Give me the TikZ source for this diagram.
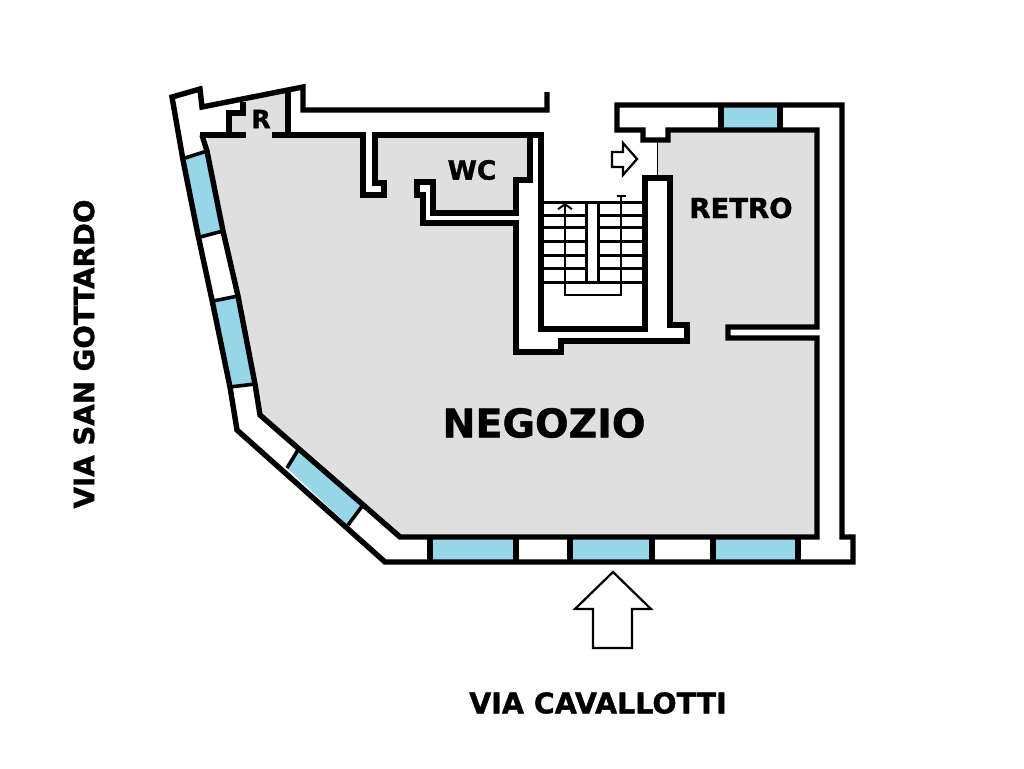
\documentclass[tikz,border=0pt]{standalone}
\usepackage{fontspec}
\usetikzlibrary{arrows.meta}
\setmainfont{DejaVu Sans}[BoldFeatures={FakeBold=1.2}]
\definecolor{roomgrey}{HTML}{DFDFDF}
\definecolor{glassblue}{HTML}{97D5E8}
\tikzset{
	wall/.style={line width=5.4pt, line join=miter, black},
	thinwall/.style={line width=3.6pt, line join=miter, black},
	tread/.style={line width=3pt, black},
	pointer/.style={line width=2.2pt, line join=miter, black, fill=white},
	roomname/.style={inner sep=0pt, black},
}
\begin{document}
\begin{tikzpicture}[x=1pt,y=-1pt]
	\path[use as bounding box, fill=white] (0,0) rectangle (1024,768);

	% stanze
	\fill[roomgrey] (207,135) -- (229,135) -- (229,113) -- (243,113) -- (243,100) -- (288,90) -- (288,135) -- (363,135) -- (363,195) -- (384,195) -- (384,183) -- (375,183) -- (375,135) -- (530,135) -- (530,180) -- (516,180) -- (516,213) -- (433,213) -- (433,182) -- (417,182) -- (417,195) -- (423,195) -- (423,223) -- (516,223) -- (516,352) -- (561,352) -- (561,341) -- (687,341) -- (687,325) -- (670,325) -- (670,178) -- (657,178) -- (657,140) -- (668,140) -- (668,130) -- (817,130) -- (817,327) -- (728,327) -- (728,338) -- (817,338) -- (817,537) -- (400,537) -- (260,415) -- (255,384) -- cycle;

	% vetrine
	\fill[glassblue] (185,158) -- (207,151) -- (223,231) -- (200,237) -- cycle;
	\fill[glassblue] (213,301) -- (238,296) -- (255,384) -- (230,387) -- cycle;
	\fill[glassblue] (298,450) -- (363,505) -- (348,525) -- (287,468) -- cycle;
	\foreach \xa/\xb in {430/516,570/652,713/798} {
		\fill[glassblue] (\xa,537) rectangle (\xb,562);
	}
	\fill[glassblue] (721,105) rectangle (780,130);

	% muri esterni
	\draw[wall] (200,135) -- (246,135);
	\draw[wall] (272,135) -- (363,135) -- (363,195) -- (384,195) -- (384,183) -- (375,183) -- (375,135) -- (543.7,135);
	\draw[wall] (229,135) -- (229,113) -- (243,113) -- (243,102);
	\draw[wall] (288,135) -- (288,90);
	\draw[wall] (202,135) -- (207,151) -- (223,231) -- (238,296) -- (255,384) -- (260,415) -- (400,537) -- (817,537) -- (817,338) -- (728,338) -- (728,327) -- (817,327) -- (817,130) -- (668,130) -- (668,140) -- (643,140) -- (643,130) -- (617,130) -- (617,105) -- (842,105) -- (842,537) -- (853,537) -- (853,562) -- (385,562) -- (237,430) -- (230,387) -- (212,300) -- (198,235) -- (183,160) -- (172,97) -- (200,89) -- (202,107) -- (303,87) -- (303,110) -- (547,110) -- (547,92);

	% tramezzi
	\draw[wall] (530,135) -- (530,180) -- (516,180) -- (516,213) -- (433,213) -- (433,182) -- (417,182) -- (417,195) -- (423,195) -- (423,223) -- (516,223) -- (516,352) -- (561,352) -- (561,341) -- (687,341) -- (687,325) -- (670,325) -- (670,178) -- (645,178) -- (645,329) -- (541,329) -- (541,135);

	% spalle delle vetrine
	\draw[thinwall] (185,158) -- (207,151);
	\draw[thinwall] (200,237) -- (223,231);
	\draw[thinwall] (213,301) -- (238,296);
	\draw[thinwall] (230,387) -- (255,384);
	\draw[thinwall] (298,450) -- (287,468);
	\draw[thinwall] (363,505) -- (348,525);
	\foreach \x in {430,516,570,652,713,798} {
		\draw[wall] (\x,537) -- (\x,562);
	}
	\draw[wall] (721,105) -- (721,130);
	\draw[wall] (780,105) -- (780,130);

	% scala
	\foreach \y in {202,215,227,241,255,268,282} {
		\draw[tread] (543,\y) -- (643,\y);
	}
	\fill[white] (586.5,204) rectangle (598.5,280);
	\draw[tread] (586.5,202) -- (586.5,282);
	\draw[tread] (598.5,202) -- (598.5,282);
	\draw[line width=2pt, black, {Straight Barb[length=5pt,width=14pt]}-{Bar[width=9pt]}] (565,203) -- (565,295) -- (621,295) -- (621,195);
	\draw[line width=1pt, black] (657,140) -- (657,177);

	% frecce
	\draw[pointer] (612,152) -- (623,152) -- (623,143) -- (637,159) -- (623,175) -- (623,167) -- (612,167) -- cycle;
	\draw[pointer] (613,572) -- (651,609) -- (632,609) -- (632,648) -- (593,648) -- (593,609) -- (575,609) -- cycle;

	% scritte
	\node[roomname, font=\bfseries\fontsize{39.5}{39.5}\selectfont] (negozio) at (544,423) {NEGOZIO};
	\node[roomname, font=\bfseries\fontsize{27.5}{27.5}\selectfont] (retro) at (741,208) {RETRO};
	\node[roomname, font=\bfseries\fontsize{26.5}{26.5}\selectfont] (wc) at (472,170) {WC};
	\node[roomname, font=\bfseries\fontsize{25}{25}\selectfont] (r) at (261,119) {R};
	\node[roomname, font=\bfseries\fontsize{28.5}{28.5}\selectfont] (cavallotti) at (598,703) {VIA CAVALLOTTI};
	\node[roomname, font=\bfseries\fontsize{27.7}{27.7}\selectfont, rotate=90] (gottardo) at (84,354) {VIA SAN GOTTARDO};
\end{tikzpicture}
\end{document}
